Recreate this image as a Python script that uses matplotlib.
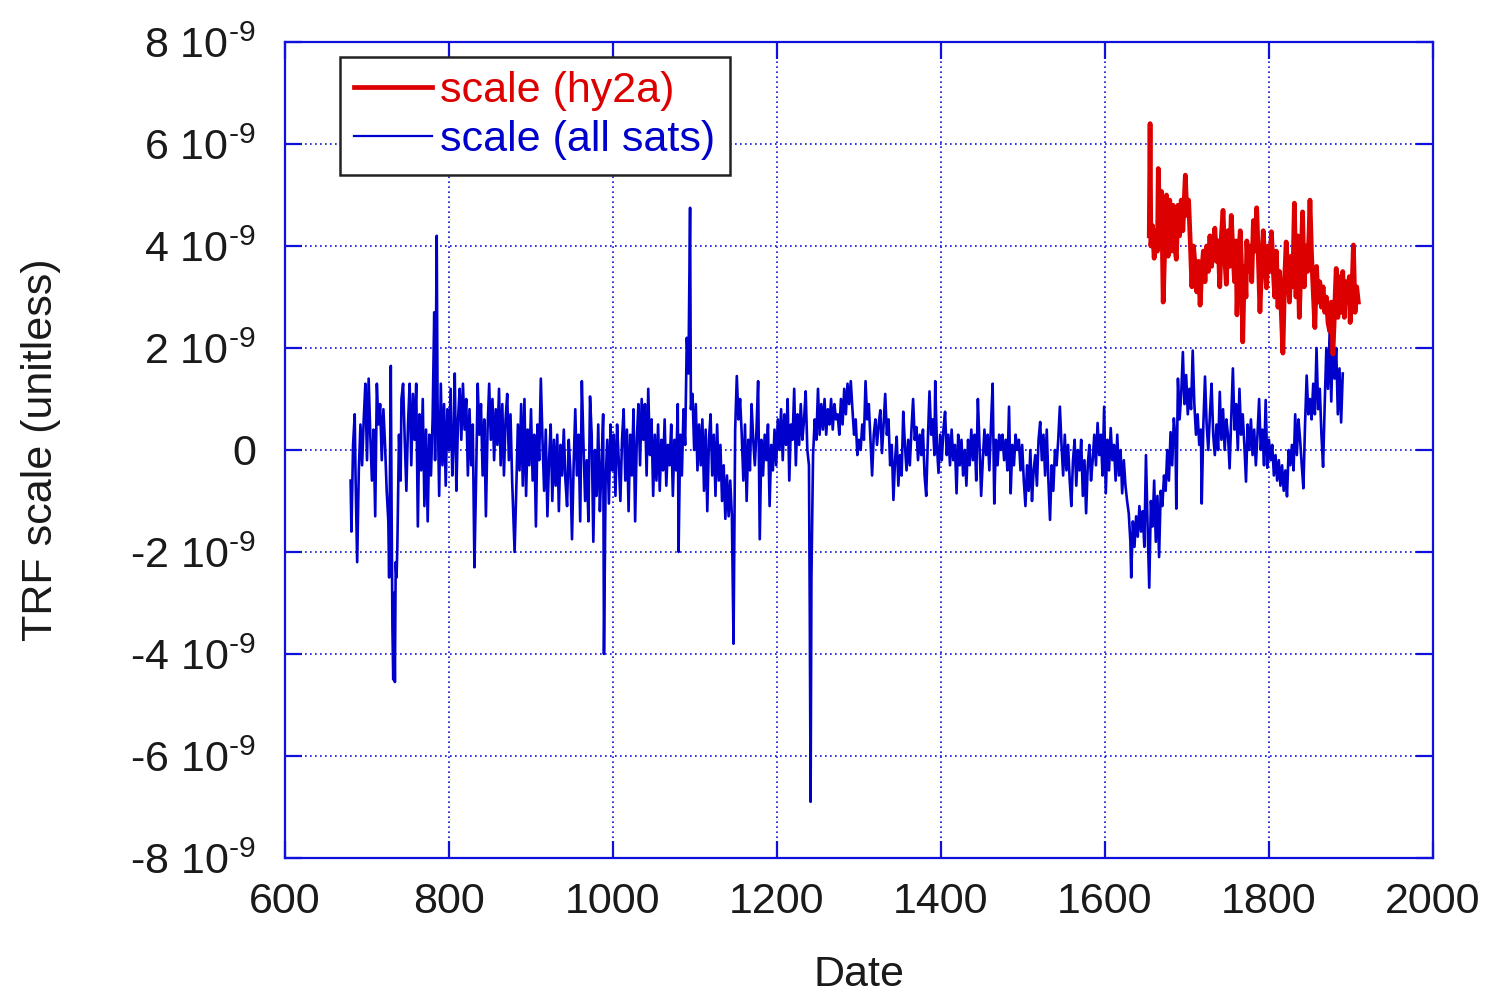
import numpy as np
import matplotlib
matplotlib.use("Agg")
import matplotlib.pyplot as plt
from matplotlib.ticker import FixedLocator, FixedFormatter

plt.rcParams['font.family'] = ['Liberation Sans', 'DejaVu Sans']
plt.rcParams['mathtext.fontset'] = 'custom'
plt.rcParams['mathtext.rm'] = 'Liberation Sans'
plt.rcParams['mathtext.it'] = 'Liberation Sans:italic'
plt.rcParams['mathtext.bf'] = 'Liberation Sans:bold'

# ---- data (values in units of 1e-9) ----
blue_days = [680, 681, 683, 685, 686, 688, 690, 692, 694, 696, 698, 700, 702, 704, 706, 708, 710, 712, 714, 716,
             718, 720, 722, 724, 726, 727, 729, 730, 731, 732, 733, 734, 735, 736, 737, 739, 741, 742, 744, 746,
             748, 750, 752, 754, 756, 758, 760, 762, 764, 766, 768, 770, 772, 774, 776, 778, 780, 782, 783, 785,
             786, 788, 790, 792, 794, 796, 798, 800, 802, 804, 806, 807, 809, 811, 813, 815, 817, 819, 821, 823,
             825, 827, 829, 831, 833, 835, 837, 839, 841, 843, 845, 847, 849, 851, 853, 855, 857, 859, 861, 863,
             865, 867, 869, 871, 873, 875, 877, 879, 880, 882, 884, 886, 888, 890, 892, 894, 896, 898, 900, 902,
             904, 906, 908, 910, 912, 914, 916, 918, 920, 922, 924, 926, 928, 930, 932, 934, 936, 938, 940, 942,
             944, 946, 948, 950, 952, 954, 956, 958, 960, 962, 964, 966, 968, 970, 972, 974, 976, 978, 980, 982,
             984, 986, 988, 989, 991, 993, 995, 997, 999, 1001, 1003, 1005, 1007, 1009, 1011, 1013, 1015, 1017, 1019, 1021,
             1023, 1025, 1027, 1029, 1031, 1033, 1035, 1037, 1039, 1041, 1043, 1045, 1047, 1049, 1051, 1053, 1055, 1057, 1059, 1061,
             1063, 1065, 1067, 1069, 1071, 1073, 1075, 1077, 1079, 1080, 1082, 1084, 1086, 1088, 1090, 1092, 1094, 1095, 1097, 1099,
             1101, 1103, 1105, 1107, 1109, 1111, 1113, 1115, 1117, 1119, 1121, 1123, 1125, 1127, 1129, 1131, 1133, 1135, 1137, 1139,
             1141, 1143, 1145, 1147, 1149, 1151, 1153, 1155, 1157, 1159, 1161, 1163, 1165, 1167, 1169, 1171, 1173, 1175, 1177, 1179,
             1181, 1183, 1185, 1187, 1189, 1191, 1193, 1195, 1197, 1199, 1201, 1203, 1205, 1207, 1209, 1211, 1213, 1215, 1217, 1219,
             1221, 1223, 1225, 1227, 1229, 1231, 1233, 1235, 1237, 1239, 1240, 1241, 1242, 1244, 1246, 1248, 1250, 1252, 1254, 1256,
             1258, 1260, 1262, 1264, 1266, 1268, 1270, 1272, 1274, 1276, 1278, 1280, 1282, 1284, 1286, 1288, 1290, 1292, 1294, 1296,
             1298, 1300, 1302, 1304, 1306, 1308, 1310, 1312, 1314, 1316, 1318, 1320, 1322, 1324, 1326, 1328, 1330, 1332, 1334, 1336,
             1338, 1340, 1342, 1344, 1346, 1348, 1350, 1352, 1354, 1356, 1358, 1360, 1362, 1364, 1366, 1368, 1370, 1372, 1374, 1376,
             1378, 1380, 1382, 1384, 1386, 1388, 1390, 1392, 1393, 1395, 1397, 1399, 1401, 1403, 1405, 1407, 1409, 1411, 1413, 1415,
             1417, 1419, 1421, 1423, 1425, 1427, 1429, 1431, 1433, 1435, 1437, 1439, 1441, 1443, 1445, 1447, 1449, 1451, 1453, 1455,
             1457, 1459, 1461, 1463, 1465, 1467, 1469, 1471, 1473, 1475, 1477, 1479, 1481, 1483, 1485, 1487, 1489, 1491, 1493, 1495,
             1497, 1499, 1501, 1503, 1505, 1507, 1509, 1511, 1513, 1515, 1517, 1519, 1521, 1523, 1525, 1527, 1529, 1531, 1533, 1535,
             1537, 1539, 1541, 1543, 1545, 1547, 1549, 1551, 1553, 1555, 1557, 1559, 1561, 1563, 1565, 1567, 1569, 1571, 1573, 1575,
             1577, 1579, 1581, 1583, 1585, 1587, 1589, 1591, 1593, 1595, 1597, 1599, 1601, 1603, 1605, 1607, 1609, 1611, 1613, 1615,
             1617, 1619, 1621, 1623, 1625, 1627, 1629, 1631, 1632, 1634, 1636, 1638, 1640, 1642, 1644, 1646, 1648, 1650, 1652, 1654,
             1656, 1658, 1660, 1662, 1664, 1666, 1668, 1670, 1672, 1674, 1676, 1678, 1680, 1682, 1684, 1686, 1687, 1689, 1691, 1693,
             1695, 1697, 1699, 1701, 1703, 1705, 1707, 1709, 1711, 1713, 1715, 1717, 1718, 1720, 1722, 1724, 1726, 1728, 1730, 1732,
             1734, 1736, 1738, 1740, 1742, 1744, 1746, 1748, 1750, 1752, 1754, 1756, 1758, 1760, 1762, 1764, 1766, 1768, 1770, 1772,
             1774, 1776, 1778, 1780, 1782, 1784, 1786, 1788, 1790, 1792, 1794, 1796, 1798, 1800, 1802, 1804, 1806, 1808, 1810, 1812,
             1814, 1816, 1818, 1820, 1822, 1824, 1826, 1828, 1830, 1832, 1834, 1836, 1838, 1840, 1842, 1844, 1846, 1848, 1850, 1852,
             1854, 1856, 1858, 1860, 1862, 1864, 1866, 1868, 1870, 1872, 1874, 1876, 1878, 1880, 1882, 1884, 1886, 1888, 1890]

blue_vals = [-0.6, -1.6, 0.1, 0.7, -0.5, -2.2, -0.4, 0.5, -0.3, 0.6, 1.3, -0.2, 1.4, 0.3, -0.6, 0.4, -1.3, 1.3, 0.5, 0.9,
             -0.2, 0.8, 0.1, -0.8, -1.4, -2.5, 1.65, -1.2, -3.5, -4.5, -2.8, -4.55, -2.2, -2.5, -1.9, 0.3, -0.6, 1.0, 1.3, 0.2,
             -0.8, 0.5, 1.3, -0.3, 1.1, 0.2, 1.3, -1.5, 0.7, -0.4, 1.0, -1.1, 0.4, -1.4, 0.3, -0.5, 0.6, 2.7, -0.2, 4.2,
             1.0, -0.9, 1.3, -0.3, 0.9, -0.7, 0.8, 0.0, 1.2, -0.5, 0.4, 1.5, -0.8, 0.6, 1.2, 0.2, 1.3, 0.4, 1.0, -0.5,
             0.8, -0.3, 0.5, -2.3, -0.6, 1.3, 0.3, 0.9, -0.5, 0.6, -1.3, 0.4, 1.3, 0.2, 1.0, -0.2, 0.8, 0.1, 1.2, -0.3,
             0.9, -0.5, 0.6, 1.1, -0.2, 0.7, -0.6, -1.5, -2.0, -0.8, 0.5, -0.4, 0.9, -0.7, 1.0, -0.9, 0.4, -0.3, 0.8, -0.6,
             0.3, -1.5, 0.5, -0.2, 1.4, 0.2, -0.8, 0.4, -1.3, -0.2, 0.5, -1.0, 0.2, -0.7, 0.3, -1.2, 0.1, -0.5, 0.4, -0.6,
             -1.1, 0.2, -0.4, -1.75, -0.3, 0.8, -0.5, 0.3, -1.4, 1.35, 0.1, -1.0, -0.2, -1.4, 1.05, 0.3, -1.8, 0.0, -0.9, 0.5,
             -1.2, -0.3, 0.7, -4.0, -0.6, 0.2, -1.05, 0.5, -0.4, 0.3, -0.9, 0.5, -0.2, -1.0, 0.2, 0.8, -0.6, 0.4, -1.2, 0.3,
             -0.5, 0.8, -1.4, 0.2, 0.9, -0.3, 1.0, 0.2, 0.9, -0.5, 1.2, -0.1, 0.6, -0.9, 0.3, -0.6, 0.5, -0.8, 0.2, -0.4,
             0.6, -0.7, 0.1, -0.3, 0.5, -0.9, 0.2, -0.4, 0.9, -2.0, 0.3, -0.5, 0.8, 0.1, 2.2, 1.5, 4.75, 0.8, 1.1, 0.0,
             0.9, -0.4, 0.5, -0.3, 0.6, -0.8, 0.4, -1.2, 0.2, 0.7, -0.5, 0.3, -0.9, 0.5, -0.6, 0.1, -1.0, -0.3, -1.35, -0.5,
             -1.3, -0.6, -1.3, -3.8, 0.4, 1.45, 0.6, 1.0, 0.3, -0.6, 0.5, -1.0, 0.2, -0.4, 0.9, 0.2, -0.3, 0.4, 1.35, -1.75,
             0.2, -0.5, 0.3, -0.2, 0.5, -1.1, 0.1, -0.4, 0.4, -0.3, 0.6, 0.0, 0.8, -0.2, 0.7, 0.1, 1.0, -0.6, 0.5, 0.2,
             1.2, -0.3, 0.7, 0.1, 0.9, 0.2, 0.6, 1.15, 0.0, -0.3, -3.2, -6.9, -2.5, -0.1, 0.6, 0.2, 1.2, 0.3, 0.9, 0.4,
             1.0, 0.3, 0.8, 0.5, 1.0, 0.4, 0.9, 0.6, 0.7, 0.3, 1.0, 0.5, 1.2, 0.7, 1.3, 0.9, 1.35, 0.8, 0.3, 0.6,
             -0.1, 0.2, 0.0, 0.5, 0.2, 1.35, 0.6, 0.9, 0.2, -0.5, 0.3, 0.6, 0.1, 0.5, 0.78, -0.06, 0.5, 1.1, 0.3, 0.6,
             -0.3, 0.1, -0.98, -0.2, 0.26, -0.7, -0.1, -0.5, 0.75, 0.1, -0.4, 0.2, -0.3, 0.4, 1.0, 0.2, 0.45, -0.2, 0.3, -0.1,
             0.4, -0.5, -0.9, 0.2, 1.15, 0.3, 0.6, -0.1, 1.35, 0.1, -0.45, 0.3, -0.2, 0.4, 0.75, -0.1, 0.3, -0.3, 0.4, -0.2,
             0.1, -0.85, 0.3, -0.3, 0.2, -0.5, 0.0, -0.7, 0.2, -0.3, 0.4, -0.2, 0.3, -0.6, 1.0, 0.1, -0.9, -0.2, 0.4, -0.1,
             0.3, -0.4, 0.5, 1.3, -1.05, 0.2, -0.3, 0.3, 0.0, 0.3, -0.2, 0.2, -0.4, 0.85, -0.85, 0.1, -0.3, 0.3, 0.0, 0.2,
             -0.4, 0.1, -0.6, -1.1, -0.3, -0.8, 0.0, -1.0, -0.4, -0.1, -0.7, 0.2, 0.55, -0.2, 0.3, -0.5, 0.4, -0.6, -1.37, -0.3,
             -0.8, 0.0, -0.3, 0.2, 0.85, 0.1, -0.5, 0.3, -0.4, 0.1, -0.6, -1.1, -0.2, 0.2, -0.7, 0.0, -0.4, 0.2, -0.9, -0.2,
             -1.24, -0.3, 0.1, -0.6, -0.2, 0.3, -0.3, 0.53, -0.1, 0.3, -0.5, 0.85, -0.85, 0.2, -0.4, 0.43, -0.2, 0.1, -0.6, 0.3,
             -0.5, 0.0, -0.85, -0.2, -0.7, -1.0, -1.24, -1.8, -2.5, -1.4, -1.9, -1.3, -1.7, -1.1, -1.6, -1.2, -1.9, -0.1, -1.5, -2.7,
             -1.0, -1.5, -0.6, -1.8, -0.9, -2.1, -0.8, -1.1, -0.5, -0.8, 0.0, -0.6, 0.35, -0.3, 0.62, 0.2, -1.15, 1.4, 0.6, 1.1,
             1.92, 0.9, 1.47, 0.7, 1.2, 0.8, 1.95, 0.9, 0.3, 0.7, 0.1, 0.4, -1.05, 0.5, 1.44, 0.5, 0.0, 0.7, 1.3, 0.3,
             -0.1, 0.5, 0.0, 1.14, 0.2, 0.8, 0.0, 0.6, 0.3, -0.36, 0.6, 1.6, 0.4, 0.9, 0.0, 1.2, 0.3, 0.7, 0.1, -0.62,
             0.5, 0.0, 0.6, -0.1, 0.4, -0.3, 0.3, 1.0, 0.0, 0.4, -0.3, 0.98, -0.35, 0.2, -0.2, 0.1, -0.5, -0.1, -0.6, -0.2,
             -0.7, -0.3, -0.8, -0.4, -0.91, 0.0, -0.3, 0.1, -0.4, 0.7, -0.1, 0.6, 0.2, -0.3, -0.75, 0.5, 1.46, 0.7, 1.0, 0.6,
             1.3, 0.7, 2.0, 0.8, 1.2, 0.3, -0.33, 0.9, 2.0, 1.2, 2.3, 0.95, 2.3, 1.4, 2.0, 0.7, 1.6, 0.54, 1.5]

red_days = [1654, 1655, 1656, 1658, 1660, 1662, 1664, 1665, 1667, 1669, 1671, 1673, 1675, 1677, 1679, 1681, 1683, 1685, 1687, 1689,
            1691, 1693, 1695, 1698, 1700, 1702, 1704, 1706, 1708, 1710, 1712, 1714, 1716, 1718, 1720, 1722, 1724, 1726, 1728, 1730,
            1732, 1734, 1736, 1738, 1740, 1742, 1744, 1746, 1748, 1750, 1752, 1754, 1756, 1758, 1760, 1761, 1763, 1765, 1767, 1768,
            1770, 1772, 1773, 1775, 1777, 1779, 1781, 1783, 1785, 1787, 1789, 1791, 1793, 1795, 1797, 1799, 1801, 1803, 1805, 1807,
            1809, 1811, 1813, 1815, 1817, 1819, 1821, 1823, 1825, 1827, 1829, 1831, 1833, 1835, 1837, 1839, 1841, 1843, 1845, 1847,
            1849, 1850, 1852, 1854, 1856, 1858, 1860, 1862, 1864, 1866, 1868, 1870, 1872, 1874, 1876, 1878, 1880, 1882, 1884, 1886,
            1888, 1890, 1892, 1894, 1896, 1898, 1899, 1901, 1903, 1905, 1907, 1909]

red_vals = [4.2, 6.4, 4.0, 4.4, 3.76, 4.3, 3.9, 5.52, 4.2, 5.07, 2.9, 4.0, 5.0, 3.8, 4.9, 3.9, 4.8, 4.0, 3.74, 4.8,
            4.2, 4.9, 4.3, 5.39, 4.6, 4.9, 4.1, 3.2, 4.0, 3.6, 3.1, 3.7, 2.84, 3.5, 3.9, 3.3, 4.0, 3.5, 4.2, 3.6,
            4.0, 4.35, 3.7, 4.1, 3.2, 4.2, 4.7, 3.8, 3.25, 4.3, 3.6, 4.6, 3.9, 3.3, 4.1, 2.65, 3.8, 4.3, 3.4, 2.12,
            3.6, 3.0, 4.1, 3.5, 4.0, 3.3, 4.5, 3.9, 4.75, 3.8, 2.71, 3.6, 4.3, 3.7, 3.18, 4.0, 3.5, 4.28, 3.6, 3.0,
            3.9, 2.8, 3.5, 2.7, 1.9, 3.3, 4.08, 3.5, 2.9, 3.8, 3.2, 4.84, 3.0, 4.2, 2.6, 3.6, 4.67, 3.2, 4.0, 3.5,
            4.3, 4.9, 3.8, 3.1, 2.4, 3.6, 2.9, 3.3, 2.8, 3.2, 2.7, 3.0, 2.5, 2.33, 2.9, 1.88, 2.7, 3.56, 2.6, 3.4,
            2.7, 3.5, 2.6, 3.3, 2.9, 3.4, 2.5, 3.0, 4.02, 2.7, 3.2, 2.9]

x_ticks = [600, 800, 1000, 1200, 1400, 1600, 1800, 2000]
y_ticks = [-8, -6, -4, -2, 0, 2, 4, 6, 8]
y_tick_labels = ['-8 $\\mathregular{10^{\u20109}}$', '-6 $\\mathregular{10^{\u20109}}$', '-4 $\\mathregular{10^{\u20109}}$',
                 '-2 $\\mathregular{10^{\u20109}}$', '0', '2 $\\mathregular{10^{\u20109}}$', '4 $\\mathregular{10^{\u20109}}$',
                 '6 $\\mathregular{10^{\u20109}}$', '8 $\\mathregular{10^{\u20109}}$']

SCALE = 1e-9
BLUE = '#0000CC'
RED = '#DD0000'
AXBLUE = '#1010DD'
FS = 31

fig = plt.figure(figsize=(14.86, 9.96), dpi=100)
ax = fig.add_axes([0.1918, 0.1386, 0.7725, 0.8192])

ax.plot(np.array(blue_days), np.array(blue_vals) * SCALE, color=BLUE, lw=1.9, label='scale (all sats)', zorder=3)
ax.plot(np.array(red_days), np.array(red_vals) * SCALE, color=RED, lw=3.4, label='scale (hy2a)', zorder=4)

ax.set_xlim(600, 2000)
ax.set_ylim(-8 * SCALE, 8 * SCALE)
ax.xaxis.set_major_locator(FixedLocator(x_ticks))
ax.yaxis.set_major_locator(FixedLocator([v * SCALE for v in y_ticks]))
ax.yaxis.set_major_formatter(FixedFormatter(y_tick_labels))
ax.set_xticklabels([str(t) for t in x_ticks])

for s in ax.spines.values():
    s.set_color(AXBLUE)
    s.set_linewidth(1.6)

ax.tick_params(axis='both', which='major', direction='in', length=12, width=1.6,
               color=AXBLUE, top=True, right=True, labelsize=FS, labelcolor='#1a1a1a')
ax.tick_params(axis='y', pad=21)
ax.tick_params(axis='x', pad=17)
ax.grid(True, color=AXBLUE, linestyle=(0, (1, 2)), linewidth=1.2)

ax.set_xlabel('Date', fontsize=FS, color='#1a1a1a', labelpad=24)
ax.set_ylabel('TRF scale (unitless)', fontsize=FS, color='#1a1a1a', labelpad=50)

handles, labels = ax.get_legend_handles_labels()
leg = ax.legend([handles[1], handles[0]], [labels[1], labels[0]], loc='upper left',
                bbox_to_anchor=(0.048, 0.982), fontsize=FS, frameon=True, fancybox=False,
                edgecolor='#222222', framealpha=1, handlelength=1.8, handletextpad=0.2,
                borderpad=0.33, labelspacing=0.22, borderaxespad=0)
leg.get_frame().set_linewidth(1.8)
leg.legend_handles[0].set_linewidth(3.4)
leg.legend_handles[1].set_linewidth(1.6)
for txt, c in zip(leg.get_texts(), [RED, BLUE]):
    txt.set_color(c)

fig.savefig('out.png', dpi=100)
